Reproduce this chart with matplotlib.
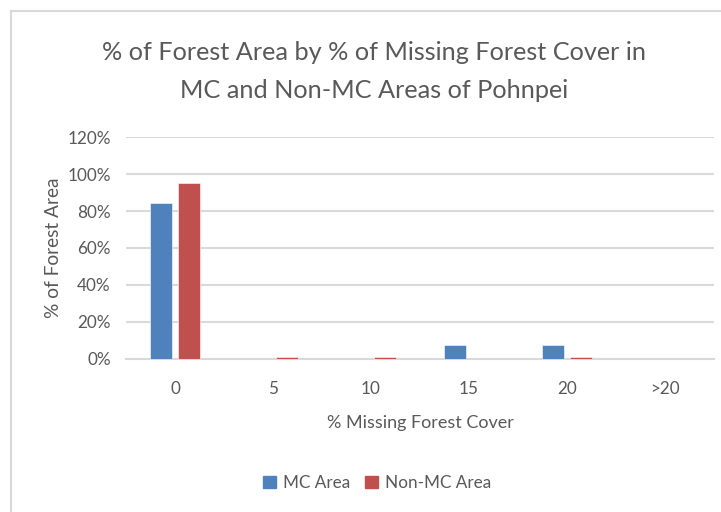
import matplotlib
matplotlib.use("Agg")
import matplotlib.pyplot as plt
from matplotlib.lines import Line2D
from matplotlib.patches import Patch
import numpy as np

categories = ["0", "5", "10", "15", "20", ">20"]
mc_area = [0.846, 0.0, 0.0, 0.076, 0.076, 0.0]
non_mc_area = [0.954, 0.008, 0.008, 0.0, 0.008, 0.0]
yticks = [0, 0.2, 0.4, 0.6, 0.8, 1.0, 1.2]
ytick_labels = ["0%", "20%", "40%", "60%", "80%", "100%", "120%"]

BLUE = "#4F81BD"
RED = "#C0504D"
TXT = "#595959"
GRID = "#D9D9D9"
FONT = ["Lato", "DejaVu Sans"]

plt.rcParams["font.family"] = FONT

fig = plt.figure(figsize=(7.21, 5.12), dpi=100)
W, H = 721, 512
ax = fig.add_axes([126 / W, 1 - 358.7 / H, (714 - 126) / W, (358.7 - 137.3) / H])

x = np.arange(len(categories))
w = 0.225
off = 0.14
ax.bar(x - off, mc_area, width=w, color=BLUE, edgecolor="white", linewidth=0.4, zorder=3)
ax.bar(x + off, non_mc_area, width=w, color=RED, edgecolor="white", linewidth=0.4, zorder=3)

ax.set_xlim(-0.5, len(categories) - 0.5)
ax.set_ylim(0, 1.2)
ax.set_yticks(yticks)
ax.set_yticklabels(ytick_labels)
ax.set_xticks(x)
ax.set_xticklabels(categories)
ax.tick_params(axis="both", length=0, colors=TXT, labelsize=12.3)
ax.tick_params(axis="y", pad=11)
ax.tick_params(axis="x", pad=16)
ax.grid(axis="y", color=GRID, linewidth=1.5, zorder=0)
for s in ["top", "right", "left"]:
    ax.spines[s].set_visible(False)
ax.spines["bottom"].set_color(GRID)
ax.spines["bottom"].set_linewidth(1.5)

ax.set_xlabel("% Missing Forest Cover", color=TXT, fontsize=13, labelpad=13)
fig.text(54 / W, 1 - 248 / H, "% of Forest Area", rotation=90, color=TXT,
         fontsize=13.8, ha="center", va="center")

fig.text(374 / W, 1 - 52 / H, "% of Forest Area by % of Missing Forest Cover in",
         color=TXT, fontsize=18.2, ha="center", va="center")
fig.text(374 / W, 1 - 90 / H, "MC and Non-MC Areas of Pohnpei",
         color=TXT, fontsize=18.2, ha="center", va="center")

handles = [Patch(color=BLUE, label="MC Area"), Patch(color=RED, label="Non-MC Area")]
fig.legend(handles=handles, loc="center", bbox_to_anchor=(377 / W, 1 - 483 / H),
           ncol=2, frameon=False, fontsize=12.3, labelcolor=TXT,
           handlelength=0.75, handleheight=0.75, handletextpad=0.4, columnspacing=0.9)

# chart border (cropped at right and bottom)
fig.add_artist(Line2D([11 / W, 1.0], [1 - 11 / H, 1 - 11 / H], color=GRID, linewidth=1.5))
fig.add_artist(Line2D([11 / W, 11 / W], [0.0, 1 - 11 / H], color=GRID, linewidth=1.5))

fig.savefig("out.png", dpi=100)
